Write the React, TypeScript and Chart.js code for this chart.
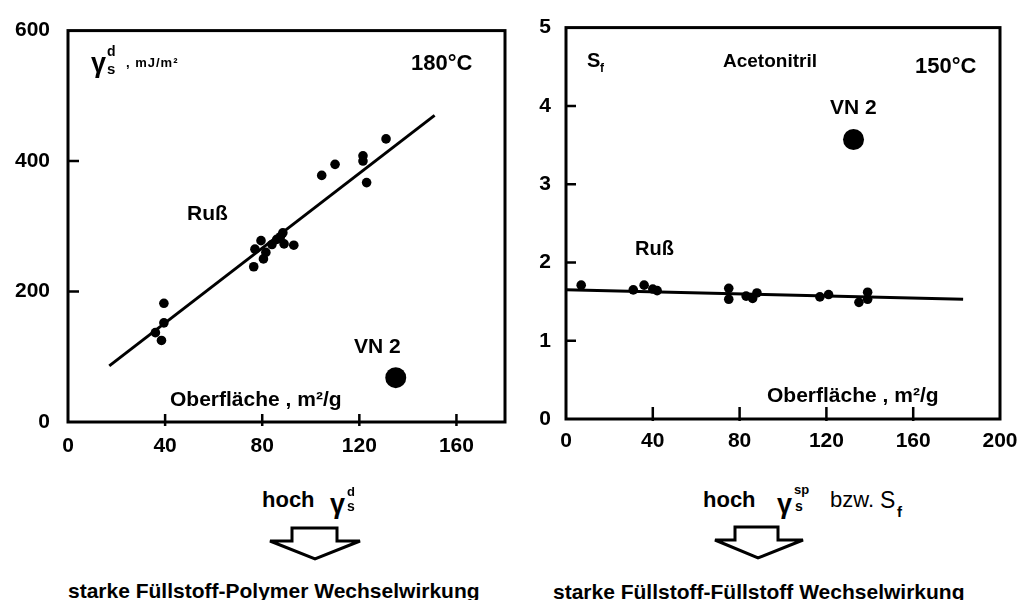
import React, { useEffect, useRef } from 'react';
import { Chart, registerables } from 'chart.js';

Chart.register(...registerables);

// ---------- data: left panel (dispersive surface energy, 180°C) ----------
const leftRussX = [36, 38.5, 39.5, 39.5, 76.5, 77, 79.5, 80.5, 81.5, 84, 86, 87.5, 88.5, 89, 93, 104.5, 110, 121.5, 121.5, 123, 131];
const leftRussY = [137, 125, 152, 182, 238, 265, 278, 250, 260, 272, 280, 284, 290, 273, 271, 378, 395, 400, 408, 367, 434];
const leftFitX = [17, 151];
const leftFitY = [86, 470];
const leftVN2X = [135];
const leftVN2Y = [68];
const leftXTicks = [0, 40, 80, 120, 160];
const leftYTicks = [0, 200, 400, 600];
const leftXMarks = [40, 80, 120, 160];
const leftYMarks = [200, 400];

// ---------- data: right panel (S_f, Acetonitril, 150°C) ----------
const rightRussX = [7, 31, 36, 40, 42, 75, 75, 83, 86, 88, 117, 121, 135, 139, 139];
const rightRussY = [1.71, 1.65, 1.71, 1.66, 1.64, 1.67, 1.53, 1.57, 1.54, 1.61, 1.56, 1.59, 1.49, 1.53, 1.62];
const rightFitX = [0, 183];
const rightFitY = [1.65, 1.53];
const rightVN2X = [132.5];
const rightVN2Y = [3.57];
const rightXTicks = [0, 40, 80, 120, 160, 200];
const rightYTicks = [0, 1, 2, 3, 4, 5];
const rightXMarks = [40, 80, 120, 160];
const rightYMarks = [1, 2, 3, 4];

const FONT = '"Liberation Sans", Arial, Helvetica, sans-serif';

const zip = (xs: number[], ys: number[]) => xs.map((x, i) => ({ x, y: ys[i] }));

function makeFrame(xMarks: number[], yMarks: number[], xIn: number, xOut: number, yIn: number) {
  return {
    id: 'frame',
    afterDraw(chart: any) {
      const { ctx, chartArea: a, scales } = chart;
      ctx.save();
      ctx.strokeStyle = '#000';
      ctx.lineWidth = 3;
      ctx.strokeRect(a.left, a.top, a.right - a.left, a.bottom - a.top);
      ctx.lineWidth = 2.5;
      ctx.beginPath();
      xMarks.forEach((v) => {
        const px = scales.x.getPixelForValue(v);
        ctx.moveTo(px, a.bottom - xIn);
        ctx.lineTo(px, a.bottom + xOut);
      });
      yMarks.forEach((v) => {
        const py = scales.y.getPixelForValue(v);
        ctx.moveTo(a.left, py);
        ctx.lineTo(a.left + yIn, py);
      });
      ctx.stroke();
      ctx.restore();
    },
  };
}

interface PanelProps {
  russX: number[]; russY: number[];
  fitX: number[]; fitY: number[];
  vnX: number[]; vnY: number[];
  xTicks: number[]; yTicks: number[];
  xMarks: number[]; yMarks: number[];
  xMax: number; yMax: number;
  yWidth: number; xHeight: number;
  padTop: number; padRight: number;
  yPad: number; xPad: number;
  xIn: number; xOut: number; yIn: number;
  width: number; height: number; left: number;
}

function Panel(p: PanelProps) {
  const ref = useRef<HTMLCanvasElement | null>(null);
  useEffect(() => {
    if (!ref.current) return;
    const tickFont = { family: FONT, size: 21, weight: 'bold' as const };
    const chart = new Chart(ref.current, {
      type: 'scatter',
      data: {
        datasets: [
          {
            type: 'line',
            data: zip(p.fitX, p.fitY),
            borderColor: '#000',
            borderWidth: 3,
            pointRadius: 0,
            showLine: true,
            fill: false,
          } as any,
          {
            data: zip(p.russX, p.russY),
            backgroundColor: '#000',
            borderColor: '#000',
            borderWidth: 0,
            pointRadius: 4.8,
          },
          {
            data: zip(p.vnX, p.vnY),
            backgroundColor: '#000',
            borderColor: '#000',
            borderWidth: 0,
            pointRadius: 10.5,
          },
        ],
      },
      options: {
        responsive: false,
        animation: false,
        plugins: { legend: { display: false }, tooltip: { enabled: false } },
        layout: { padding: { left: 0, top: p.padTop, right: p.padRight, bottom: 0 } },
        scales: {
          x: {
            type: 'linear',
            min: 0,
            max: p.xMax,
            afterBuildTicks: (s: any) => { s.ticks = p.xTicks.map((v) => ({ value: v })); },
            afterFit: (s: any) => { s.height = p.xHeight; },
            grid: { display: false, drawTicks: false },
            border: { display: false },
            ticks: { font: tickFont, color: '#000', padding: p.xPad, maxRotation: 0, autoSkip: false },
          },
          y: {
            type: 'linear',
            min: 0,
            max: p.yMax,
            afterBuildTicks: (s: any) => { s.ticks = p.yTicks.map((v) => ({ value: v })); },
            afterFit: (s: any) => { s.width = p.yWidth; },
            grid: { display: false, drawTicks: false },
            border: { display: false },
            ticks: { font: tickFont, color: '#000', padding: p.yPad, autoSkip: false },
          },
        },
      },
      plugins: [makeFrame(p.xMarks, p.yMarks, p.xIn, p.xOut, p.yIn)],
    });
    return () => chart.destroy();
  }, []);
  return (
    <canvas
      ref={ref}
      width={p.width}
      height={p.height}
      style={{ position: 'absolute', left: p.left, top: 0, width: p.width, height: p.height }}
    />
  );
}

function T(props: { x: number; y: number; size: number; bold?: boolean; children: React.ReactNode; spacing?: number }) {
  return (
    <span
      style={{
        position: 'absolute',
        left: props.x,
        top: props.y,
        transform: 'translateY(-50%)',
        fontFamily: FONT,
        fontSize: props.size,
        fontWeight: props.bold ? 'bold' : 'normal',
        lineHeight: 1,
        whiteSpace: 'nowrap',
        color: '#000',
        letterSpacing: props.spacing ?? 0,
      }}
    >
      {props.children}
    </span>
  );
}

export default function App() {
  return (
    <div style={{ position: 'absolute', left: 0, top: 0, width: 1034, height: 600, background: '#fff', overflow: 'hidden' }}>
      <Panel
        russX={leftRussX} russY={leftRussY} fitX={leftFitX} fitY={leftFitY}
        vnX={leftVN2X} vnY={leftVN2Y}
        xTicks={leftXTicks} yTicks={leftYTicks} xMarks={leftXMarks} yMarks={leftYMarks}
        xMax={180} yMax={600}
        yWidth={68} xHeight={38} padTop={25} padRight={15}
        yPad={18} xPad={12} xIn={8} xOut={4} yIn={11}
        width={520} height={460} left={0}
      />
      <Panel
        russX={rightRussX} russY={rightRussY} fitX={rightFitX} fitY={rightFitY}
        vnX={rightVN2X} vnY={rightVN2Y}
        xTicks={rightXTicks} yTicks={rightYTicks} xMarks={rightXMarks} yMarks={rightYMarks}
        xMax={200} yMax={5}
        yWidth={46} xHeight={41} padTop={21} padRight={34}
        yPad={15} xPad={10} xIn={12} xOut={2} yIn={10}
        width={514} height={460} left={520}
      />

      {/* left panel annotations */}
      <T x={91} y={63} size={27} bold>γ</T>
      <T x={107} y={51} size={14} bold>d</T>
      <T x={107} y={68} size={15} bold>s</T>
      <T x={126} y={62} size={13} bold spacing={1}>, mJ/m²</T>
      <T x={411} y={63} size={22} bold>180°C</T>
      <T x={187} y={212} size={21} bold>Ruß</T>
      <T x={170} y={398} size={21} bold>Oberfläche , m²/g</T>
      <T x={354} y={345} size={21} bold>VN 2</T>

      {/* right panel annotations */}
      <T x={587} y={60} size={20} bold>S</T>
      <T x={600} y={68} size={12} bold>f</T>
      <T x={723} y={60} size={19} bold>Acetonitril</T>
      <T x={915} y={66} size={22} bold>150°C</T>
      <T x={830} y={106} size={21} bold>VN 2</T>
      <T x={635} y={248} size={20} bold>Ruß</T>
      <T x={767} y={394} size={21} bold>Oberfläche , m²/g</T>

      {/* bottom left */}
      <T x={262} y={500} size={22} bold>hoch</T>
      <T x={330} y={504} size={27} bold>γ</T>
      <T x={347} y={491} size={13} bold>d</T>
      <T x={347} y={506} size={14} bold>s</T>
      <T x={68} y={590} size={21} bold>starke Füllstoff-Polymer Wechselwirkung</T>

      {/* bottom right */}
      <T x={703} y={500} size={22} bold>hoch</T>
      <T x={777} y={504} size={27} bold>γ</T>
      <T x={794} y={489} size={13} bold>sp</T>
      <T x={795} y={506} size={14} bold>s</T>
      <T x={830} y={500} size={22}>bzw.</T>
      <T x={880} y={500} size={23}>S</T>
      <T x={897} y={511} size={15} bold>f</T>
      <T x={553} y={591} size={21} bold>starke Füllstoff-Füllstoff Wechselwirkung</T>

      <svg width={1034} height={600} style={{ position: 'absolute', left: 0, top: 0, pointerEvents: 'none' }}>
        <polygon
          points="292,528 337,528 337,541 360,541 315,559 270,541 292,541"
          fill="#fff" stroke="#000" strokeWidth={3} strokeLinejoin="miter"
        />
        <polygon
          points="735,527 778,527 778,540 803,540 758,558 715,540 735,540"
          fill="#fff" stroke="#000" strokeWidth={3} strokeLinejoin="miter"
        />
      </svg>
    </div>
  );
}
